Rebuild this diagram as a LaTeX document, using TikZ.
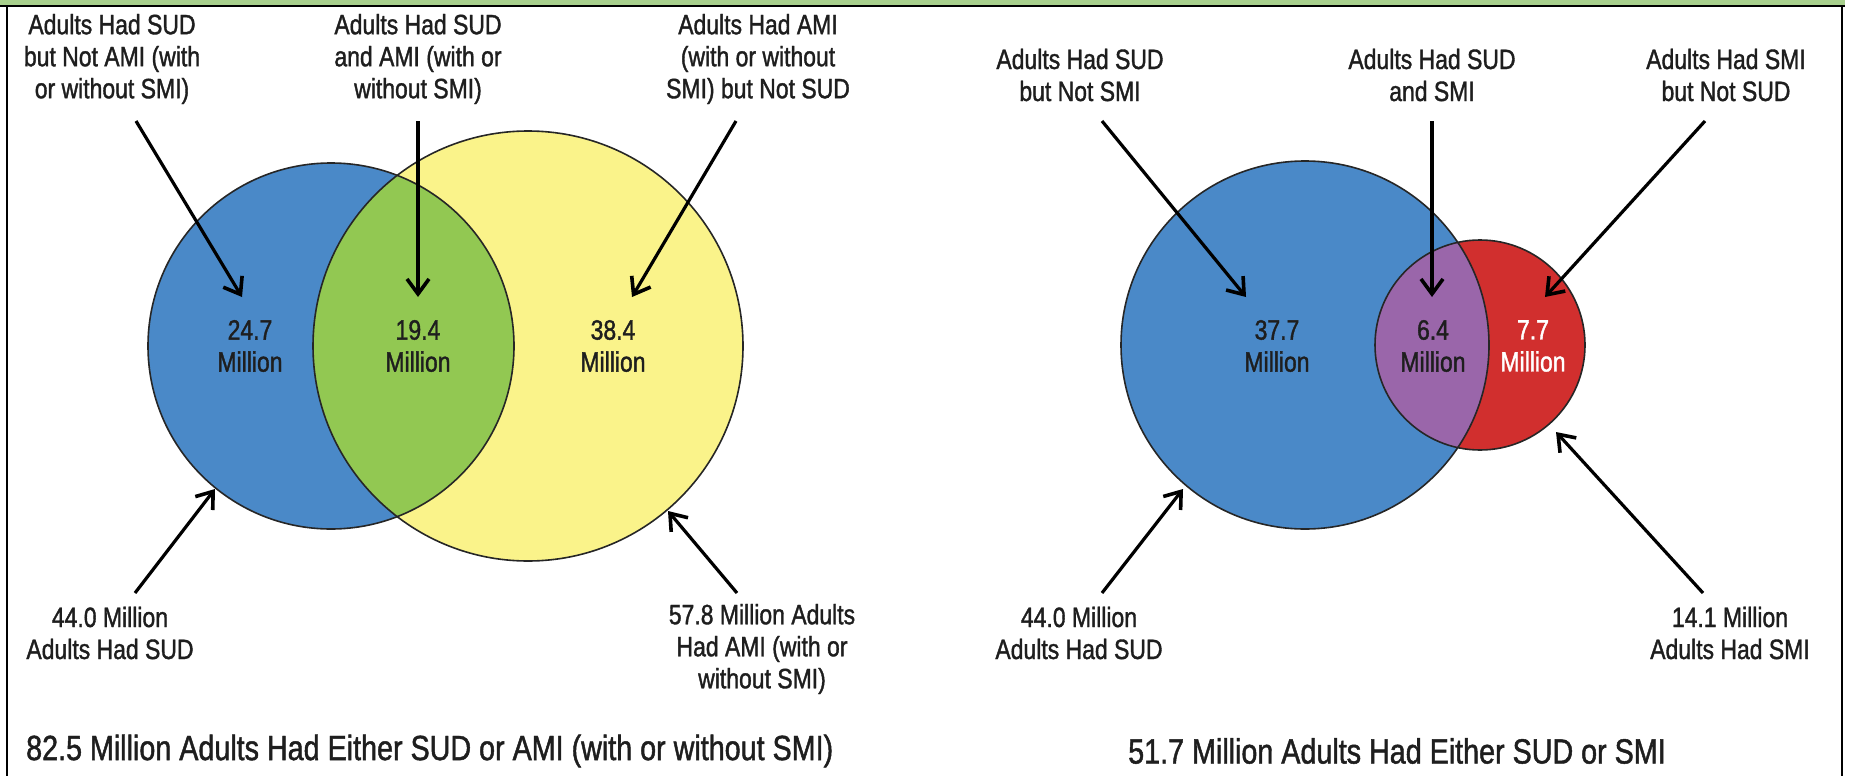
\documentclass[tikz,border=0pt]{standalone}
\usepackage{fontspec}
\setmainfont{Liberation Sans}[FakeStretch=0.82,FakeBold=1.3]
\usetikzlibrary{arrows.meta}
\definecolor{vblue}{HTML}{4A89C8}
\definecolor{vgreen}{HTML}{92C852}
\definecolor{vyellow}{HTML}{FAF38A}
\definecolor{vpurple}{HTML}{9A66AA}
\definecolor{vred}{HTML}{D12F2E}
\definecolor{hgreen}{HTML}{A8D08D}
\definecolor{txt}{HTML}{1E1E1E}
\begin{document}
\begin{tikzpicture}[x=1pt,y=-1pt,
  lbl/.style={align=center, font=\fontsize{28}{32}\selectfont, text=txt, inner sep=0pt},
  num/.style={align=center, font=\fontsize{28}{32}\selectfont, text=txt, inner sep=0pt},
  captxt/.style={font=\fontsize{35}{38}\selectfont, text=txt, inner sep=0pt},
  ptr/.style={line width=3.2pt, -{Straight Barb[length=15pt,width=22pt,line width=3.6pt]}},
  outl/.style={draw=black!85, line width=1.6pt}]
\useasboundingbox (0,0) rectangle (1855,776);
% frame
\fill[hgreen] (0,0) rectangle (1845,5);
\draw[line width=2pt] (0,6) -- (1845,6);
\draw[line width=2pt] (7,6) -- (7,776);
\draw[line width=2pt] (1842,6) -- (1842,776);
% left venn
\fill[vblue] (331,346) circle[radius=183];
\fill[vyellow] (528,346) circle[radius=215];
\begin{scope}
  \clip (331,346) circle[radius=183];
  \fill[vgreen] (528,346) circle[radius=215];
\end{scope}
\draw[outl] (331,346) circle[radius=183];
\draw[outl] (528,346) circle[radius=215];
% right venn
\fill[vblue] (1305,345) circle[radius=184];
\fill[vred] (1480,345) circle[radius=105];
\begin{scope}
  \clip (1305,345) circle[radius=184];
  \fill[vpurple] (1480,345) circle[radius=105];
\end{scope}
\draw[outl] (1305,345) circle[radius=184];
\draw[outl] (1480,345) circle[radius=105];
% texts left
\node[lbl] (t1) at (112,59) {Adults Had SUD\\but Not AMI (with\\or without SMI)};
\node[lbl] (t2) at (418,59) {Adults Had SUD\\and AMI (with or\\without SMI)};
\node[lbl] (t3) at (758,59) {Adults Had AMI\\(with or without\\SMI) but Not SUD};
\node[num] (n1) at (250,346) {24.7\\Million};
\node[num] (n2) at (418,346) {19.4\\Million};
\node[num] (n3) at (613,346) {38.4\\Million};
\node[lbl] (b1) at (110,633) {44.0 Million\\Adults Had SUD};
\node[lbl] (b2) at (762,649) {57.8 Million Adults\\Had AMI (with or\\without SMI)};
\node[captxt, anchor=west] (c1) at (26,751) {82.5 Million Adults Had Either SUD or AMI (with or without SMI)};
% texts right
\node[lbl] (t4) at (1080,75) {Adults Had SUD\\but Not SMI};
\node[lbl] (t5) at (1432,75) {Adults Had SUD\\and SMI};
\node[lbl] (t6) at (1726,75) {Adults Had SMI\\but Not SUD};
\node[num] (n4) at (1277,346) {37.7\\Million};
\node[num] (n5) at (1433,346) {6.4\\Million};
\node[num, text=white] (n6) at (1533,346) {7.7\\Million};
\node[lbl] (b3) at (1079,633) {44.0 Million\\Adults Had SUD};
\node[lbl] (b4) at (1730,633) {14.1 Million\\Adults Had SMI};
\node[captxt] (c2) at (1397,751) {51.7 Million Adults Had Either SUD or SMI};
% arrow coordinates
\coordinate (a1s) at (136,121); \coordinate (a1e) at (242,297);
\coordinate (a2s) at (418,121); \coordinate (a2e) at (418,297);
\coordinate (a3s) at (736,121); \coordinate (a3e) at (632,297);
\coordinate (a4s) at (135,593); \coordinate (a4e) at (215,489);
\coordinate (a5s) at (737,593); \coordinate (a5e) at (668,511);
\coordinate (b1s) at (1102,121); \coordinate (b1e) at (1246,297);
\coordinate (b2s) at (1432,121); \coordinate (b2e) at (1432,297);
\coordinate (b3s) at (1705,121); \coordinate (b3e) at (1545,297);
\coordinate (b4s) at (1102,593); \coordinate (b4e) at (1183,489);
\coordinate (b5s) at (1703,593); \coordinate (b5e) at (1556,432);
\foreach \p in {a1,a2,a3,a4,a5,b1,b2,b3,b4,b5}
  \draw[ptr] (\p s) -- (\p e);
\end{tikzpicture}
\end{document}
